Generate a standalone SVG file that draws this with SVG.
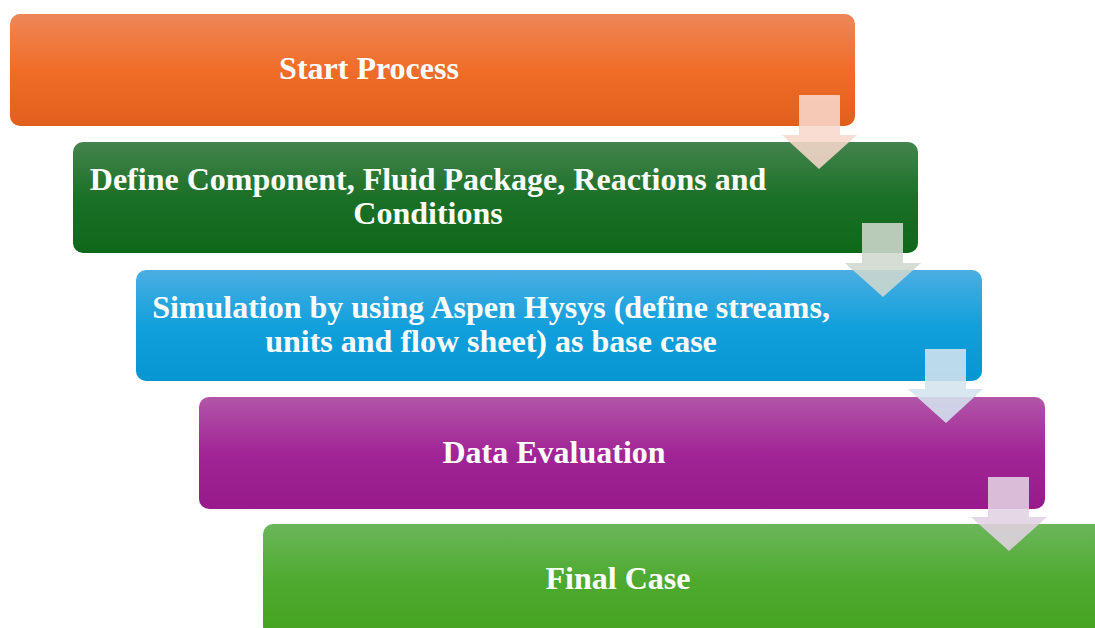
<svg xmlns="http://www.w3.org/2000/svg" width="1095" height="628" viewBox="0 0 1095 628">
<defs>
<linearGradient id="gOrange" x1="0" y1="0" x2="0" y2="1"><stop offset="0" stop-color="#EE8658"/><stop offset="0.5" stop-color="#F06D28"/><stop offset="1" stop-color="#E15F1C"/></linearGradient>
<linearGradient id="gDark" x1="0" y1="0" x2="0" y2="1"><stop offset="0" stop-color="#44844E"/><stop offset="0.5" stop-color="#1B7027"/><stop offset="1" stop-color="#0F681A"/></linearGradient>
<linearGradient id="gBlue" x1="0" y1="0" x2="0" y2="1"><stop offset="0" stop-color="#4AAEE3"/><stop offset="0.5" stop-color="#12A0DC"/><stop offset="1" stop-color="#0696D2"/></linearGradient>
<linearGradient id="gPurple" x1="0" y1="0" x2="0" y2="1"><stop offset="0" stop-color="#B256A8"/><stop offset="0.5" stop-color="#A12596"/><stop offset="1" stop-color="#981A8A"/></linearGradient>
<linearGradient id="gLight" x1="0" y1="0" x2="0" y2="1"><stop offset="0" stop-color="#6BB65A"/><stop offset="0.5" stop-color="#4EAA30"/><stop offset="1" stop-color="#45A320"/></linearGradient>
</defs>
<style>
.box{stroke:none}
.t{font-family:"Liberation Serif","Times New Roman",serif;font-weight:bold;font-size:32px;fill:#FFFFFF;text-anchor:middle}
.arr{stroke:none}
</style>
<g id="node1"><rect class="box" x="10" y="14" width="845" height="112" rx="10" fill="url(#gOrange)"/><text class="t" x="369" y="79">Start Process</text></g>
<g id="node2"><rect class="box" x="73" y="142" width="845" height="111" rx="10" fill="url(#gDark)"/><text class="t" x="428" y="190">Define Component, Fluid Package, Reactions and</text><text class="t" x="428" y="224">Conditions</text></g>
<g id="node3"><rect class="box" x="136" y="270" width="846" height="111" rx="10" fill="url(#gBlue)"/><text class="t" x="491" y="318">Simulation by using Aspen Hysys (define streams,</text><text class="t" x="491" y="352">units and flow sheet) as base case</text></g>
<g id="node4"><rect class="box" x="199" y="397" width="846" height="112" rx="10" fill="url(#gPurple)"/><text class="t" x="554" y="463">Data Evaluation</text></g>
<g id="node5"><rect class="box" x="263" y="524" width="846" height="112" rx="10" fill="url(#gLight)"/><text class="t" x="618" y="589">Final Case</text></g>
<g id="connectors">
<polygon class="arr" points="799,95 840,95 840,135 857,135 819,169 782,135 799,135" fill="#F8D7CC" fill-opacity="0.88"/>
<polygon class="arr" points="862,223 903,223 903,263 921,263 883,297 845,263 862,263" fill="#CFD8CE" fill-opacity="0.88"/>
<polygon class="arr" points="925,349 966,349 966,389 983,389 946,423 908,389 925,389" fill="#D4E4EF" fill-opacity="0.88"/>
<polygon class="arr" points="988,477 1029,477 1029,517 1047,517 1009,551 971,517 988,517" fill="#E2D1E2" fill-opacity="0.88"/>
</g>
</svg>
